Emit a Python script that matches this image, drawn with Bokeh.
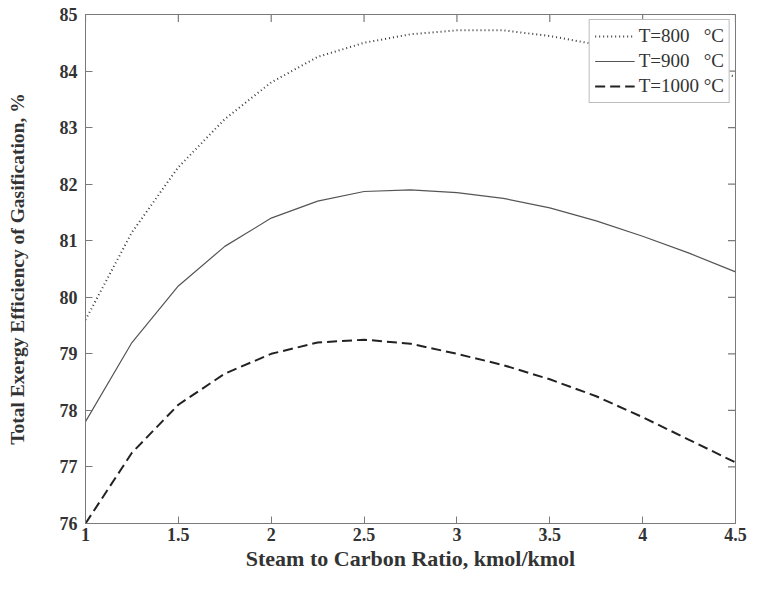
import math
from bokeh.plotting import figure
from bokeh.models import Range1d, Legend, LegendItem, FixedTicker
from bokeh.embed import file_html
from bokeh.resources import INLINE

# Data
ratio = [1.0, 1.25, 1.5, 1.75, 2.0, 2.25, 2.5, 2.75, 3.0, 3.25, 3.5, 3.75, 4.0, 4.25, 4.5]
t800 = [79.6, 81.15, 82.3, 83.15, 83.8, 84.25, 84.5, 84.65, 84.72, 84.72, 84.62, 84.47, 84.3, 84.1, 83.9]
t900 = [77.8, 79.2, 80.2, 80.9, 81.4, 81.7, 81.87, 81.9, 81.85, 81.75, 81.58, 81.35, 81.08, 80.78, 80.45]
t1000 = [76.0, 77.25, 78.1, 78.65, 79.0, 79.2, 79.25, 79.18, 79.0, 78.8, 78.55, 78.25, 77.88, 77.48, 77.08]
labels = ["T=800\u00a0\u00a0\u00a0°C", "T=900\u00a0\u00a0\u00a0°C", "T=1000\u00a0°C"]
x_ticks = [1, 1.5, 2, 2.5, 3, 3.5, 4, 4.5]
y_ticks = [76, 77, 78, 79, 80, 81, 82, 83, 84, 85]
x_min, x_max = 1, 4.5
y_min, y_max = 76, 85

SERIF = "Liberation Serif"
FRAME = "#7a7a7a"

p = figure(width=748, height=573, output_backend="svg", toolbar_location=None,
           x_range=Range1d(x_min, x_max), y_range=Range1d(y_min, y_max),
           min_border_left=85, min_border_right=13, min_border_top=14, min_border_bottom=47,
           background_fill_color="white", border_fill_color="white")
p.grid.visible = False
p.outline_line_color = FRAME
p.outline_line_width = 1

for ax in [p.xaxis[0], p.yaxis[0]]:
    ax.axis_line_color = FRAME
    ax.major_tick_line_color = FRAME
    ax.major_tick_in = 7
    ax.major_tick_out = 0
    ax.minor_tick_line_color = None
    ax.major_label_text_font = SERIF
    ax.major_label_text_font_style = "bold"
    ax.major_label_text_font_size = "18px"
    ax.major_label_text_color = "#333333"
    ax.axis_label_text_font = SERIF
    ax.axis_label_text_font_style = "bold"
    ax.axis_label_text_color = "#333333"

p.xaxis[0].axis_label_text_font_size = "22px"
p.yaxis[0].axis_label_text_font_size = "19.5px"
p.xaxis[0].ticker = FixedTicker(ticks=x_ticks)
p.yaxis[0].ticker = FixedTicker(ticks=y_ticks)
p.xaxis[0].axis_label = "Steam to Carbon Ratio, kmol/kmol"
p.yaxis[0].axis_label = "Total Exergy Efficiency of Gasification, %"
p.xaxis[0].major_label_standoff = 4
p.xaxis[0].axis_label_standoff = 2
p.yaxis[0].major_label_standoff = 8
p.yaxis[0].axis_label_standoff = 29

# inward ticks on top and right edges (outer half of each dash is clipped by the frame)
p.scatter(x_ticks, [y_max] * len(x_ticks), marker="dash", size=15, angle=math.pi / 2,
          line_color=FRAME, line_width=1.2)
p.scatter([x_max] * len(y_ticks), y_ticks, marker="dash", size=15,
          line_color=FRAME, line_width=1.2)

r800 = p.line(ratio, t800, line_color="#3a3a3a", line_width=2, line_dash="1 3")
r900 = p.line(ratio, t900, line_color="#555555", line_width=1.2)
r1000 = p.line(ratio, t1000, line_color="#222222", line_width=2, line_dash="10 5")

legend = Legend(items=[LegendItem(label=labels[0], renderers=[r800]),
                       LegendItem(label=labels[1], renderers=[r900]),
                       LegendItem(label=labels[2], renderers=[r1000])],
                location="top_right")
legend.margin = 5
legend.padding = 5
legend.spacing = 3
legend.glyph_width = 40
legend.label_standoff = 4
legend.label_text_font = SERIF
legend.label_text_font_size = "19px"
legend.label_text_color = "#333333"
legend.border_line_color = FRAME
legend.border_line_width = 1
legend.background_fill_alpha = 1
p.add_layout(legend, "center")

open("out.html", "w").write(file_html(p, INLINE))
